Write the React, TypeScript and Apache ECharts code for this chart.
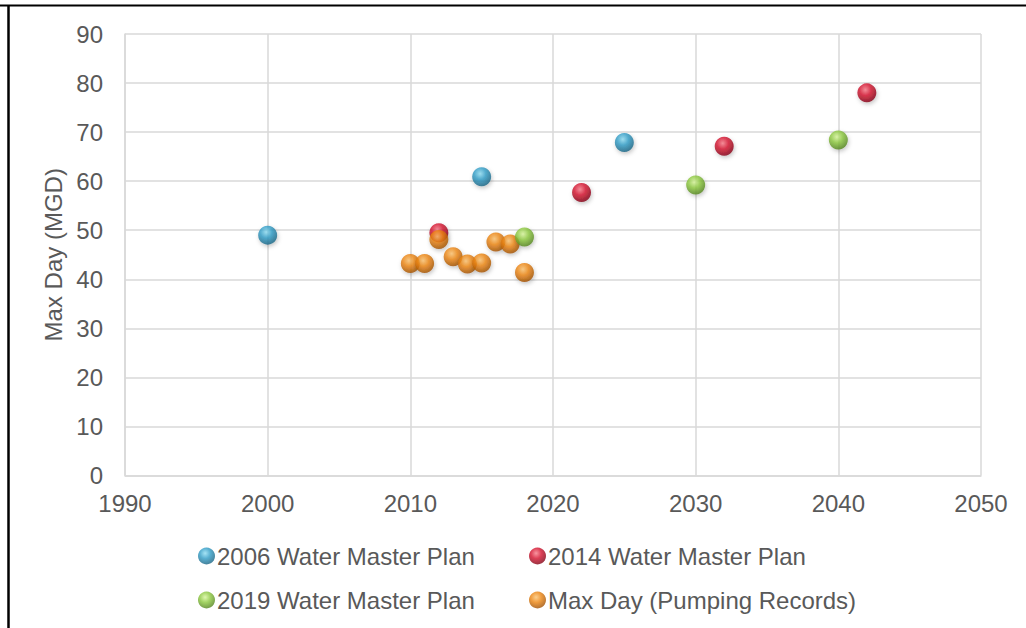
import React, { useEffect, useRef } from "react";
import * as echarts from "echarts";

// Planning projections and recorded max-day demand, [year, MGD]
const plan2006: [number, number][] = [
  [2000, 49.0],
  [2015, 60.9],
  [2025, 67.9],
];
const plan2014: [number, number][] = [
  [2012, 49.5],
  [2022, 57.7],
  [2032, 67.1],
  [2042, 78.0],
];
const plan2019: [number, number][] = [
  [2018, 48.6],
  [2030, 59.2],
  [2040, 68.4],
];
const pumpingRecords: [number, number][] = [
  [2010, 43.2],
  [2011, 43.2],
  [2012, 48.1],
  [2013, 44.6],
  [2014, 43.1],
  [2015, 43.3],
  [2016, 47.6],
  [2017, 47.2],
  [2018, 41.4],
];

const seriesNames = [
  "2006 Water Master Plan",
  "2014 Water Master Plan",
  "2019 Water Master Plan",
  "Max Day (Pumping Records)",
];

const FONT = "'Liberation Sans', Arial, sans-serif";
const FONT_SIZE = 24;
const TEXT = "#595959";
const GRID = "#d9d9d9";

// glossy sphere fill: highlight, body, rim
function sphere(hi: string, mid: string, rim: string) {
  return new echarts.graphic.RadialGradient(0.42, 0.34, 0.68, [
    { offset: 0, color: hi },
    { offset: 0.45, color: mid },
    { offset: 1, color: rim },
  ]);
}

const styles = [
  { fill: sphere("#8fdcf2", "#2f9cc6", "#17607f"), z: 2 },
  { fill: sphere("#f77a88", "#d4102c", "#7d0012"), z: 2 },
  { fill: sphere("#d6f59a", "#8cc83e", "#4f801a"), z: 4 },
  { fill: sphere("#fbc270", "#ec840f", "#9c4c00"), z: 3 },
];

const datasets = [plan2006, plan2014, plan2019, pumpingRecords];

export default function App() {
  const ref = useRef<HTMLDivElement>(null);

  useEffect(() => {
    if (!ref.current) return;
    const chart = echarts.init(ref.current, undefined, { renderer: "svg" });

    const series = datasets.map((data, i) => ({
      name: seriesNames[i],
      type: "scatter",
      data,
      symbol: "circle",
      symbolSize: 19,
      z: styles[i].z,
      itemStyle: {
        color: styles[i].fill,
        shadowBlur: 4,
        shadowOffsetX: 1,
        shadowOffsetY: 2,
        shadowColor: "rgba(0,0,0,0.28)",
      },
    }));

    const legendCommon = {
      orient: "vertical",
      top: 539,
      itemWidth: 17,
      itemHeight: 17,
      itemGap: 20,
      icon: "circle",
      selectedMode: false,
      textStyle: {
        color: TEXT,
        fontFamily: FONT,
        fontSize: FONT_SIZE,
        padding: [0, 0, 0, -3],
      },
      itemStyle: { shadowBlur: 0, shadowOffsetX: 0, shadowOffsetY: 0 },
    };

    const label = {
      color: TEXT,
      fontFamily: FONT,
      fontSize: FONT_SIZE,
    };

    chart.setOption({
      animation: false,
      backgroundColor: "#ffffff",
      grid: { left: 125, top: 34, width: 856, height: 441.5 },
      xAxis: {
        type: "value",
        min: 1990,
        max: 2050,
        interval: 10,
        axisLine: { show: true, lineStyle: { color: GRID, width: 1.5 } },
        axisTick: { show: false },
        splitLine: { show: true, lineStyle: { color: GRID, width: 1.5 } },
        axisLabel: { ...label, margin: 16, formatter: (v: number) => String(v) },
      },
      yAxis: {
        type: "value",
        min: 0,
        max: 90,
        interval: 10,
        name: "Max Day (MGD)",
        nameLocation: "middle",
        nameGap: 58,
        nameTextStyle: label,
        axisLine: { show: true, lineStyle: { color: GRID, width: 1.5 } },
        axisTick: { show: false },
        splitLine: { show: true, lineStyle: { color: GRID, width: 1.5 } },
        axisLabel: { ...label, margin: 22 },
      },
      legend: [
        { ...legendCommon, left: 193, data: [seriesNames[0], seriesNames[2]] },
        { ...legendCommon, left: 524, data: [seriesNames[1], seriesNames[3]] },
      ],
      graphic: [
        {
          type: "line",
          shape: { x1: 0, y1: 5.5, x2: 1026, y2: 5.5 },
          style: { stroke: "#000", lineWidth: 1.8 },
        },
        {
          type: "line",
          shape: { x1: 8.5, y1: 5, x2: 8.5, y2: 628 },
          style: { stroke: "#000", lineWidth: 2.5 },
        },
      ],
      series,
    });

    return () => chart.dispose();
  }, []);

  return (
    <div
      ref={ref}
      style={{ position: "absolute", left: 0, top: 0, width: 1026, height: 628 }}
    />
  );
}
